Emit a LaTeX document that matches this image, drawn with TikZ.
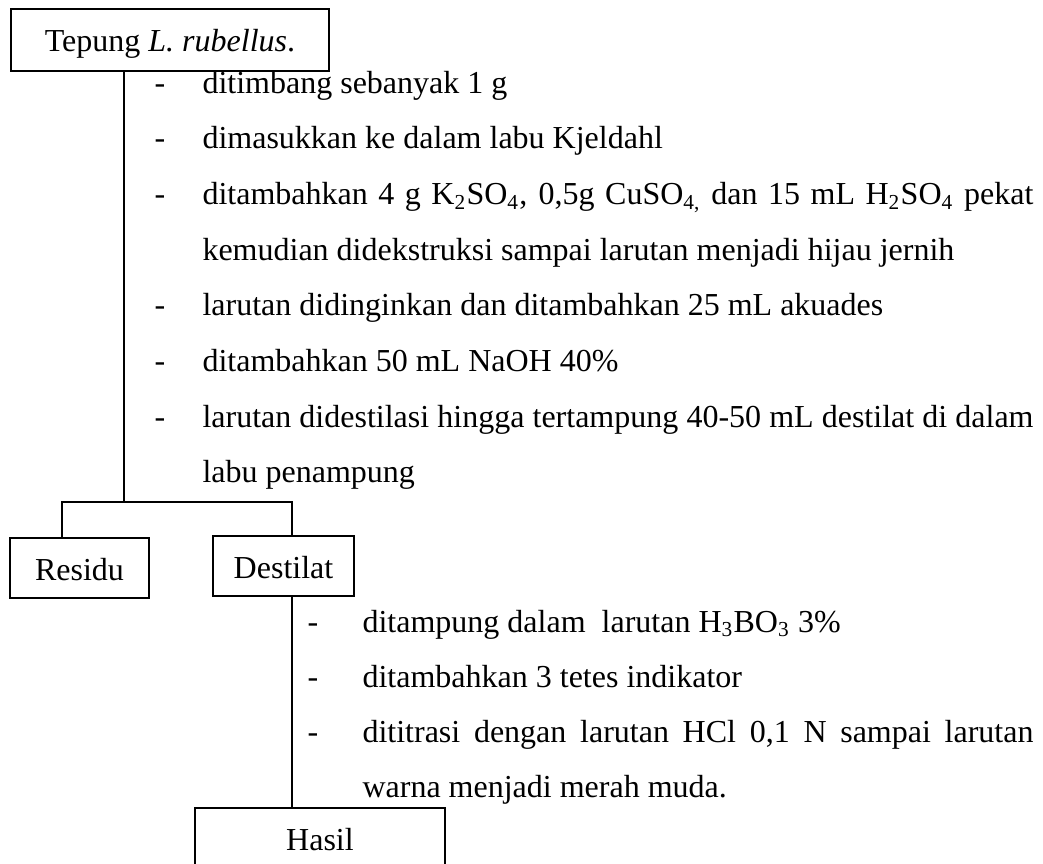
\documentclass[tikz,border=0pt]{standalone}
\usepackage{fontspec}
\setmainfont{Liberation Serif}
\usetikzlibrary{positioning}

\tikzset{
  procbox/.style={draw, line width=0.75pt, inner sep=0pt, anchor=north west,
    text height=15.75pt, text depth=6.75pt, font=\fontsize{12}{20.9}\selectfont},
  stepdash/.style={anchor=base, inner sep=0pt, font=\fontsize{12}{20.9}\selectfont},
  stepline/.style={anchor=base west, inner sep=0pt, align=justify,
    font=\fontsize{12}{20.9}\selectfont},
  flowline/.style={line width=0.6pt}
}

\begin{document}
\begin{tikzpicture}[x=0.375pt, y=-0.375pt]
		\useasboundingbox (0,0) rectangle (1043,863);
		\clip (0,0) rectangle (1043,863);

		% boxes
		\node [procbox, minimum width=119.25pt, text depth=7.5pt] (tepung) at (10,8) {Tepung \textit{L. rubellus}.};
		\node [procbox, minimum width=52.125pt] (residu) at (9,537) {Residu};
		\node [procbox, minimum width=52.875pt] (destilat) at (212,535) {Destilat};
		\node [procbox, minimum width=93.75pt, text depth=14.25pt] (hasil) at (194,807) {Hasil};

		% steps of the first stage
		\foreach \y/\n/\txt in {93/s1/{ditimbang sebanyak 1 g},
				148.7/s2/{dimasukkan ke dalam labu Kjeldahl},
				204.4/s3/{ditambahkan 4 g K\textsubscript{2}SO\textsubscript{4}, 0,5g CuSO\textsubscript{4,} dan 15 mL H\textsubscript{2}SO\textsubscript{4} pekat\linebreak kemudian didekstruksi sampai larutan menjadi hijau jernih},
				315.8/s4/{larutan didinginkan dan ditambahkan 25 mL akuades},
				371.5/s5/{ditambahkan 50 mL NaOH 40\%},
				427.2/s6/{larutan didestilasi hingga tertampung 40-50 mL destilat di dalam\linebreak labu penampung}} {
			\node [stepdash] at (160,\y) {-};
			\node [stepline, text width=311.6pt] (\n) at (202,\y) {\txt};
		}

		% steps of the second stage
		\foreach \y/\n/\txt in {632/t1/{ditampung dalam\ \ larutan H\textsubscript{3}BO\textsubscript{3} 3\%},
				687/t2/{ditambahkan 3 tetes indikator},
				742/t3/{dititrasi dengan larutan HCl 0,1 N sampai larutan\linebreak warna menjadi merah muda.}} {
			\node [stepdash] at (313,\y) {-};
			\node [stepline, text width=251.6pt] (\n) at (362,\y) {\txt};
		}

		% connectors
		\coordinate (split) at (124,502);
		\coordinate (lb) at (62,502);
		\coordinate (rb) at (292,502);
		\draw [flowline] (tepung.south -| split) -- (split);
		\draw [flowline] (residu.north -| lb) -- (lb) -- (rb) -- (destilat.north -| rb);
		\draw [flowline] (destilat.south -| rb) -- (hasil.north -| rb);
	\end{tikzpicture}
\end{document}
